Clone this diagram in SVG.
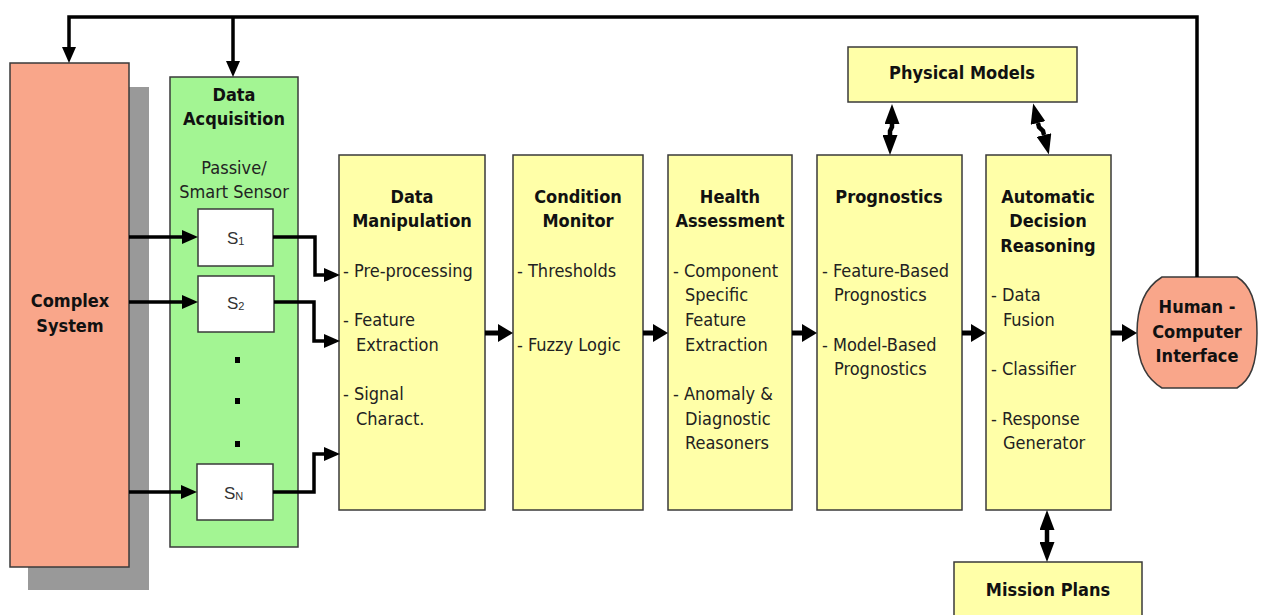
<svg xmlns="http://www.w3.org/2000/svg" width="1263" height="615" viewBox="0 0 1263 615">
<style>
text { font-family: "DejaVu Sans Condensed", "DejaVu Sans", sans-serif; font-stretch: condensed; font-size: 18px; fill: #222; }
.t { font-weight: bold; fill: #111; text-anchor: middle; }
.c { text-anchor: middle; }
.box { fill: #FFFFA8; stroke: #3a3a3a; stroke-width: 1.5; }
.sal { fill: #F9A68A; stroke: #3a3a3a; stroke-width: 1.5; }
.grn { fill: #A3F593; stroke: #3a3a3a; stroke-width: 1.5; }
.sen { fill: #fff; stroke: #3a3a3a; stroke-width: 1.5; }
.s { font-family: "Liberation Sans", Arial, sans-serif; font-stretch: normal; font-size: 17px; fill: #333; }
.sub { font-size: 11px; }
.ln { fill: none; stroke: #000; stroke-width: 3.5; }
.blk { fill: none; stroke: #000; stroke-width: 5; }
.dbl { fill: none; stroke: #000; stroke-width: 4.5; stroke-linejoin: miter; }
</style>
<defs>
<marker id="ah" markerUnits="userSpaceOnUse" markerWidth="16" markerHeight="14" refX="0" refY="7" orient="auto-start-reverse">
<path d="M0,0 L16,7 L0,14 Z" fill="#000"/>
</marker>
<marker id="ahb" markerUnits="userSpaceOnUse" markerWidth="15" markerHeight="18" refX="0" refY="9" orient="auto-start-reverse">
<path d="M0,0 L15,9 L0,18 Z" fill="#000"/>
</marker>
<marker id="ahd" markerUnits="userSpaceOnUse" markerWidth="20" markerHeight="15" refX="0" refY="7.5" orient="auto-start-reverse">
<path d="M0,0 L20,7.5 L0,15 Z" fill="#000"/>
</marker>
</defs>
<rect width="1263" height="615" fill="#fff"/>

<g id="complex-system">
<rect x="28" y="87" width="121" height="503" fill="#999"/>
<rect class="sal" x="10" y="63" width="119" height="504"/>
<text class="t" x="70" y="307">Complex</text>
<text class="t" x="70" y="332">System</text>
</g>

<g id="data-acquisition">
<rect class="grn" x="170" y="77" width="128" height="470"/>
<text class="t" x="234" y="101">Data</text>
<text class="t" x="234" y="125">Acquisition</text>
<text class="c" x="234" y="174">Passive/</text>
<text class="c" x="234" y="198">Smart Sensor</text>
<rect x="235" y="357" width="5" height="6" fill="#000"/>
<rect x="235" y="398" width="5" height="6" fill="#000"/>
<rect x="235" y="441" width="5" height="6" fill="#000"/>
</g>

<g id="sensor-1">
<rect class="sen" x="198" y="209" width="75" height="57"/>
<text class="s" x="227" y="244">S<tspan class="sub" dy="1">1</tspan></text>
</g>
<g id="sensor-2">
<rect class="sen" x="198" y="276" width="76" height="56"/>
<text class="s" x="227" y="309">S<tspan class="sub" dy="1">2</tspan></text>
</g>
<g id="sensor-n">
<rect class="sen" x="197" y="464" width="76" height="56"/>
<text class="s" x="224" y="499">S<tspan class="sub" dy="1">N</tspan></text>
</g>

<g id="data-manipulation">
<rect class="box" x="339" y="155" width="146" height="355"/>
<text class="t" x="412" y="203">Data</text>
<text class="t" x="412" y="227">Manipulation</text>
<text x="343" y="277">- Pre-processing</text>
<text x="343" y="326">- Feature</text>
<text x="356" y="351">Extraction</text>
<text x="343" y="400">- Signal</text>
<text x="356" y="425">Charact.</text>
</g>

<g id="condition-monitor">
<rect class="box" x="513" y="155" width="130" height="355"/>
<text class="t" x="578" y="203">Condition</text>
<text class="t" x="578" y="227">Monitor</text>
<text x="517" y="277">- Thresholds</text>
<text x="517" y="351">- Fuzzy Logic</text>
</g>

<g id="health-assessment">
<rect class="box" x="668" y="155" width="124" height="355"/>
<text class="t" x="730" y="203">Health</text>
<text class="t" x="730" y="227">Assessment</text>
<text x="673" y="277">- Component</text>
<text x="685" y="301">Specific</text>
<text x="685" y="326">Feature</text>
<text x="685" y="351">Extraction</text>
<text x="673" y="400">- Anomaly &amp;</text>
<text x="685" y="425">Diagnostic</text>
<text x="685" y="449">Reasoners</text>
</g>

<g id="prognostics">
<rect class="box" x="817" y="155" width="145" height="355"/>
<text class="t" x="889" y="203">Prognostics</text>
<text x="822" y="277">- Feature-Based</text>
<text x="834" y="301">Prognostics</text>
<text x="822" y="351">- Model-Based</text>
<text x="834" y="375">Prognostics</text>
</g>

<g id="automatic-decision-reasoning">
<rect class="box" x="986" y="155" width="125" height="355"/>
<text class="t" x="1048" y="203">Automatic</text>
<text class="t" x="1048" y="227">Decision</text>
<text class="t" x="1048" y="252">Reasoning</text>
<text x="991" y="301">- Data</text>
<text x="1003" y="326">Fusion</text>
<text x="991" y="375">- Classifier</text>
<text x="991" y="425">- Response</text>
<text x="1003" y="449">Generator</text>
</g>

<g id="physical-models">
<rect class="box" x="848" y="47" width="229" height="55"/>
<text class="t" x="962" y="79">Physical Models</text>
</g>

<g id="mission-plans">
<rect class="box" x="954" y="562" width="188" height="60"/>
<text class="t" x="1048" y="596">Mission Plans</text>
</g>

<g id="human-computer-interface">
<path class="sal" d="M1162,277 L1237,277 C1250,285 1257,300 1257,333 C1257,366 1250,380 1237,388 L1162,388 C1149,380 1137,366 1137,333 C1137,300 1149,285 1162,277 Z"/>
<text class="t" x="1197" y="313">Human -</text>
<text class="t" x="1197" y="338">Computer</text>
<text class="t" x="1197" y="362">Interface</text>
</g>

<g id="connectors">
<path class="ln" d="M1197,277 V17 H69 V47" marker-end="url(#ah)"/>
<path class="ln" d="M233,17 V61" marker-end="url(#ah)"/>
<path class="ln" d="M129,237 H182" marker-end="url(#ah)"/>
<path class="ln" d="M129,302 H182" marker-end="url(#ah)"/>
<path class="ln" d="M129,492 H181" marker-end="url(#ah)"/>
<path class="ln" d="M273,237 H315 V275 H324" marker-end="url(#ah)"/>
<path class="ln" d="M274,302 H314 V341 H324" marker-end="url(#ah)"/>
<path class="ln" d="M273,492 H314 V454 H324" marker-end="url(#ah)"/>
<path class="blk" d="M485,333 H498" marker-end="url(#ahb)"/>
<path class="blk" d="M643,333 H653" marker-end="url(#ahb)"/>
<path class="blk" d="M792,333 H802" marker-end="url(#ahb)"/>
<path class="blk" d="M962,333 H971" marker-end="url(#ahb)"/>
<path class="blk" d="M1111,333 H1122" marker-end="url(#ahb)"/>
<path class="dbl" d="M892,124 L892,127 L890,131 L890,135" marker-start="url(#ahd)" marker-end="url(#ahd)"/>
<path class="dbl" d="M1038,123 L1039,127 L1043,131 L1044,135" marker-start="url(#ahd)" marker-end="url(#ahd)"/>
<path class="dbl" d="M1047,530 V542" marker-start="url(#ahd)" marker-end="url(#ahd)"/>
</g>
</svg>
